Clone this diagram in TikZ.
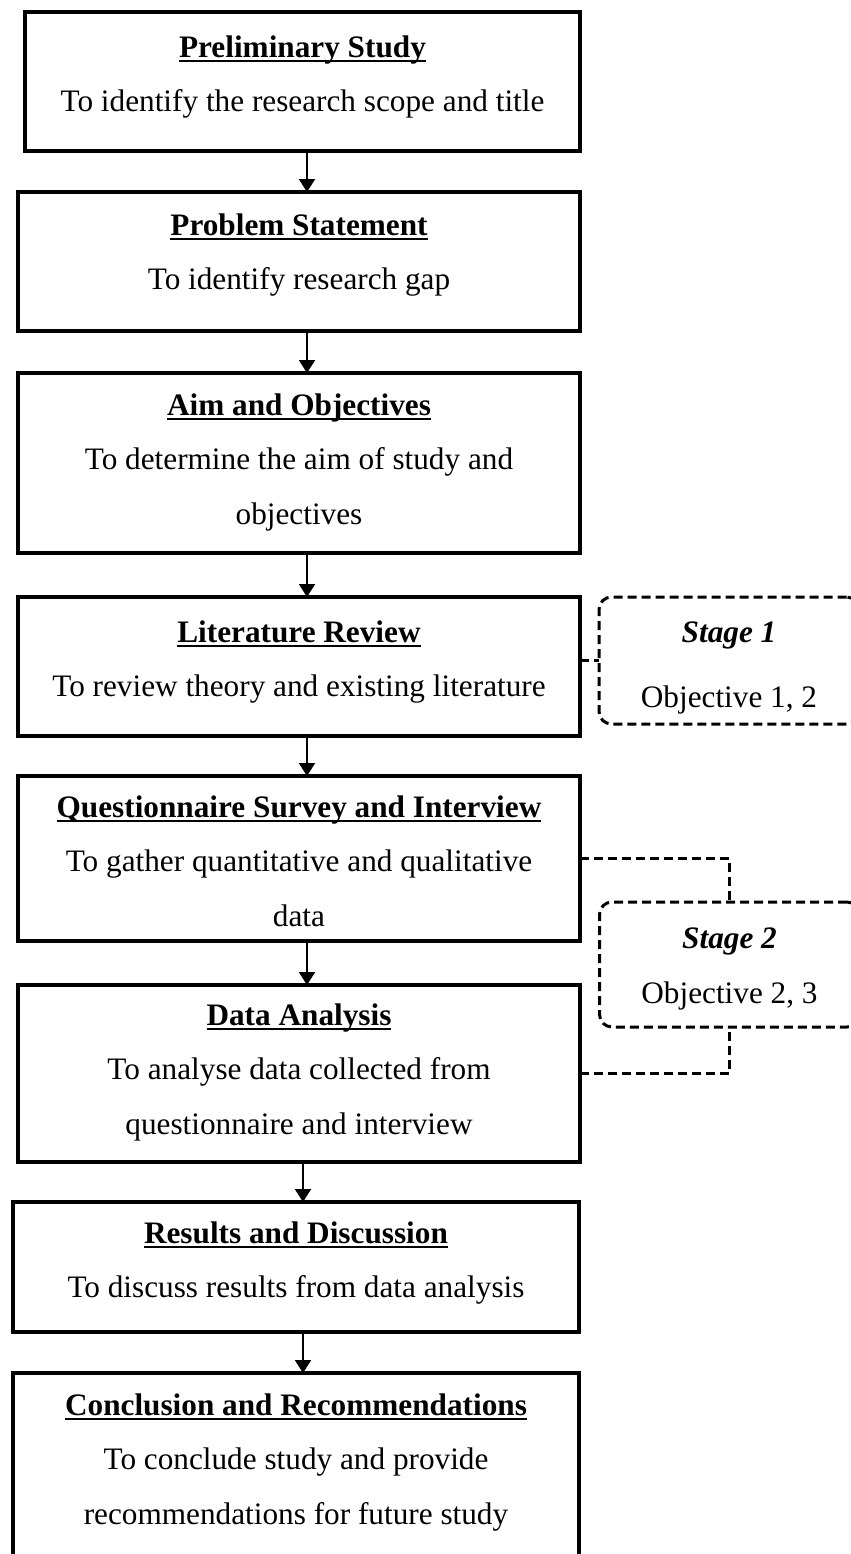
\documentclass[tikz,border=0pt]{standalone}
\usepackage{fontspec}
\setmainfont{Liberation Serif}
\usetikzlibrary{arrows.meta}
\newcommand\px{0.4pt}
\newcommand\headtxt[1]{\setbox0\hbox{\bfseries #1}\rlap{\rule[-2pt]{\wd0}{0.8pt}}\box0}

\begin{document}
\begin{tikzpicture}[x=0.4pt, y=-0.4pt,
  every node/.style={font=\fontsize{12.5pt}{21.8pt}\selectfont, align=center, inner xsep=0pt, inner ysep=0pt, outer sep=0pt},
  box/.style n args={3}{draw, line width=1.3pt, anchor=north, minimum width=#1*\px, text height=#2*\px, text depth=#3*\px},
  stagebox/.style 2 args={draw, line width=1.2pt, dash pattern=on 3.6pt off 2pt, rounded corners=5pt, anchor=north, minimum width=260*\px, text height=#1*\px, text depth=#2*\px},
  arr/.style={line width=0.8pt, -{Triangle[width=6.4pt,length=5.2pt]}},
  link/.style={line width=1.2pt, dash pattern=on 3.6pt off 2pt}]
\useasboundingbox (0,0) rectangle (851,1554);
\clip (0,0) rectangle (851,1554);
\node[box={555}{99.5}{39.5}] (b1) at (302.5,12) {\headtxt{Preliminary Study}\\To identify the research scope and title};
\node[box={562}{97.5}{41.5}] (b2) at (299,192) {\headtxt{Problem Statement}\\To identify research gap};
\node[box={562}{151}{29}] (b3) at (299,373) {\headtxt{Aim and Objectives}\\To determine the aim of study and\\objectives};
\node[box={562}{99.5}{39.5}] (b4) at (299,597) {\headtxt{Literature Review}\\To review theory and existing literature};
\node[box={562}{150}{15}] (b5) at (299,776) {\headtxt{Questionnaire Survey and Interview}\\To gather quantitative and qualitative\\data};
\node[box={562}{149}{28}] (b6) at (299,985) {\headtxt{Data Analysis}\\To analyse data collected from\\questionnaire and interview};
\node[box={566}{95.5}{34.5}] (b7) at (296,1202) {\headtxt{Results and Discussion}\\To discuss results from data analysis};
\node[box={566}{151}{56}] (b8) at (296,1373) {\headtxt{Conclusion and Recommendations}\\To conclude study and provide\\recommendations for future study};
\node[stagebox={110}{17}, font=\fontsize{12.5pt}{26pt}\selectfont] (s1) at (729,597) {\textbf{\textit{Stage 1}}\\Objective 1, 2};
\node[stagebox={101}{24}] (s2) at (729.5,902) {\textbf{\textit{Stage 2}}\\Objective 2, 3};
\coordinate (ax) at (307,0);
\coordinate (bx) at (303,0);
\foreach \i/\j/\c in {1/2/ax,2/3/ax,3/4/ax,4/5/ax,5/6/ax,6/7/bx,7/8/bx}
  \draw[arr] (b\i.south -| \c) -- (b\j.north -| \c);
\draw[link] (s1.west -| b4.east) -- (s1.west);
\draw[link] (b5.east) -| (s2.north);
\draw[link] (b6.east) -| (s2.south);
\end{tikzpicture}
\end{document}
